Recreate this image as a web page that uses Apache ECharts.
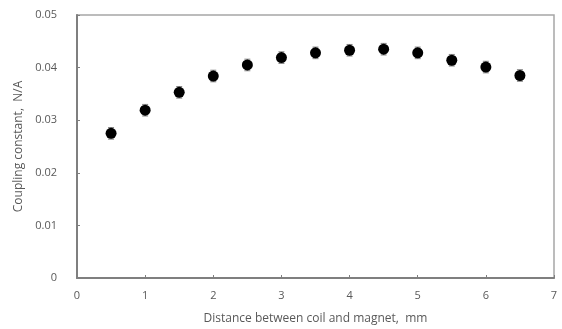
<!DOCTYPE html>
<html>
<head>
<meta charset="utf-8">
<script src="https://cdn.jsdelivr.net/npm/echarts@6/dist/echarts.min.js"></script>
<style>
   html, body { margin: 0 ; padding: 0 ; background: #fff ; }
   #chart { width: 562px ; height: 329px ; }
</style>
</head>
<body>
<div id="chart"></div>
<script>
(function(){
   //测量数据
   var distance = [ 0.5, 1, 1.5, 2, 2.5, 3, 3.5, 4, 4.5, 5, 5.5, 6, 6.5 ] ;
   var coupling = [ 0.0275, 0.0319, 0.0353, 0.0384, 0.0405, 0.0419, 0.0428, 0.0433, 0.0435, 0.0428, 0.0414, 0.0401, 0.0385 ] ;
   var errorBar = [ 0.0011, 0.0011, 0.0011, 0.0011, 0.0011, 0.0011, 0.0011, 0.0011, 0.0011, 0.0011, 0.0011, 0.0011, 0.0011 ] ;
   var xTicks = [ 0, 1, 2, 3, 4, 5, 6, 7 ] ;
   var yTicks = [ 0, 0.01, 0.02, 0.03, 0.04, 0.05 ] ;

   var font = 'Open Sans' ;
   function $each( arr, fn ){ for( var i = 0; i < arr.length; ++i ) fn( i, arr[i] ) ; }
   var points = [] ;
   var bars = [] ;
   $each( distance, function( i, x ){
      points.push( [ x, coupling[i] ] ) ;
      bars.push( [ x, coupling[i] - errorBar[i], coupling[i] + errorBar[i] ] ) ;
   } ) ;

   var chart = echarts.init( document.getElementById( 'chart' ) ) ;
   chart.setOption( {
      animation: false,
      grid: { left: 77, right: 8, top: 15, bottom: 51, outerBoundsMode: 'none', containLabel: false,
              show: true, borderColor: '#a6a6a6', borderWidth: 1.5 },
      xAxis: {
         type: 'value', min: xTicks[0], max: xTicks[xTicks.length - 1], interval: 1,
         name: 'Distance between coil and magnet,  mm', nameLocation: 'middle', nameGap: 35,
         nameTextStyle: { color: '#595959', fontSize: 12, fontFamily: font },
         axisLine: { show: true, onZero: false, lineStyle: { color: '#7f7f7f', width: 2 } },
         axisTick: { show: true, inside: true, length: 3, lineStyle: { color: '#7f7f7f' } },
         axisLabel: { color: '#595959', fontSize: 11, fontFamily: font, margin: 12 },
         splitLine: { show: false }
      },
      yAxis: {
         type: 'value', min: yTicks[0], max: yTicks[yTicks.length - 1], interval: 0.01,
         name: 'Coupling constant,  N/A', nameLocation: 'middle', nameGap: 51,
         nameTextStyle: { color: '#595959', fontSize: 12, fontFamily: font },
         axisLine: { show: true, onZero: false, lineStyle: { color: '#7f7f7f', width: 2 } },
         axisTick: { show: true, inside: true, length: 3, lineStyle: { color: '#7f7f7f' } },
         axisLabel: { color: '#595959', fontSize: 11, fontFamily: font, margin: 20,
            formatter: function( v ){ return v === 0 ? '0' : v.toFixed( 2 ) ; } },
         splitLine: { show: false }
      },
      series: [
         {
            type: 'custom',
            data: bars,
            z: 1,
            renderItem: function( params, api ){
               var lo = api.coord( [ api.value( 0 ), api.value( 1 ) ] ) ;
               var hi = api.coord( [ api.value( 0 ), api.value( 2 ) ] ) ;
               var w = 3 ;
               var style = { stroke: '#808080', lineWidth: 1 } ;
               return {
                  type: 'group',
                  children: [
                     { type: 'line', shape: { x1: lo[0], y1: lo[1], x2: hi[0], y2: hi[1] }, style: style },
                     { type: 'line', shape: { x1: lo[0] - w, y1: lo[1], x2: lo[0] + w, y2: lo[1] }, style: style },
                     { type: 'line', shape: { x1: hi[0] - w, y1: hi[1], x2: hi[0] + w, y2: hi[1] }, style: style }
                  ]
               } ;
            }
         },
         {
            type: 'scatter',
            data: points,
            z: 2,
            symbol: 'circle',
            symbolSize: 11,
            itemStyle: { color: '#000', opacity: 1 }
         }
      ]
   } ) ;
}());
</script>
</body>
</html>
